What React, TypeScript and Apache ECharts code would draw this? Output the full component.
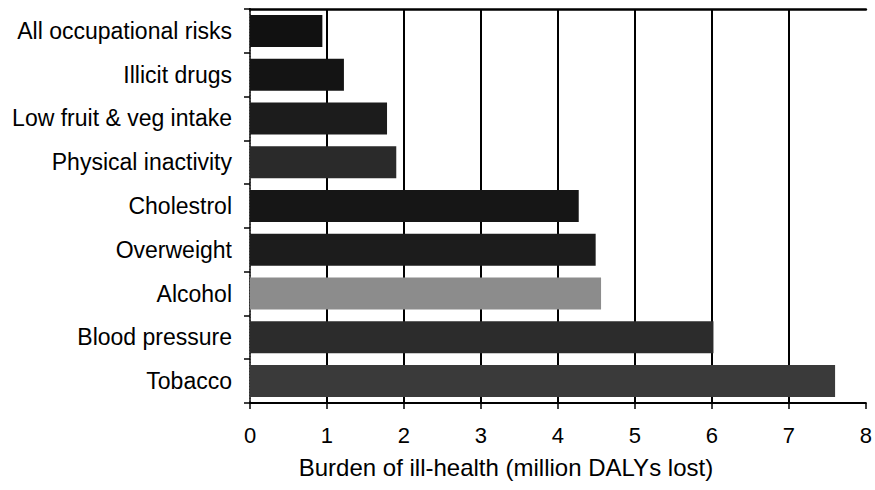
import React, { useEffect, useRef } from "react";
import * as echarts from "echarts";

const categories = [
  "All occupational risks",
  "Illicit drugs",
  "Low fruit & veg intake",
  "Physical inactivity",
  "Cholestrol",
  "Overweight",
  "Alcohol",
  "Blood pressure",
  "Tobacco",
];
const values = [0.94, 1.22, 1.78, 1.9, 4.27, 4.49, 4.56, 6.02, 7.6];
const barColors = ["#111111", "#141414", "#1c1c1c", "#2a2a2a", "#161616", "#1c1c1c", "#8c8c8c", "#2c2c2c", "#3a3a3a"];
const xTicks = [0, 1, 2, 3, 4, 5, 6, 7, 8];

export default function App() {
  const ref = useRef<HTMLDivElement>(null);
  useEffect(() => {
    if (!ref.current) return;
    const chart = echarts.init(ref.current, null, { renderer: "svg" });
    const font = "Liberation Sans, Arial, sans-serif";
    chart.setOption({
      animation: false,
      backgroundColor: "#ffffff",
      grid: { left: 250, right: 7, top: 9, bottom: 87 },
      xAxis: [
        {
          type: "value",
          min: xTicks[0],
          max: xTicks[xTicks.length - 1],
          interval: 1,
          axisLine: { show: true, lineStyle: { color: "#000", width: 2 } },
          axisTick: { show: true, length: 6, lineStyle: { color: "#000", width: 1.5 } },
          axisLabel: { color: "#000", fontSize: 22, fontFamily: font, margin: 21 },
          splitLine: { show: true, showMinLine: false, showMaxLine: false, lineStyle: { color: "#000", width: 2 } },
          name: "Burden of ill-health (million DALYs lost)",
          nameLocation: "middle",
          nameGap: 52,
          nameTextStyle: { color: "#000", fontSize: 24, fontFamily: font, padding: [0, 104, 0, 0] },
        },
        {
          type: "value",
          position: "top",
          min: 0,
          max: 8,
          interval: 1,
          axisLine: { show: true, lineStyle: { color: "#000", width: 2.5 } },
          axisTick: { show: false },
          axisLabel: { show: false },
          splitLine: { show: false },
        },
      ],
      yAxis: [
        {
          type: "category",
          data: categories,
          inverse: true,
          axisLine: { show: true, lineStyle: { color: "#000", width: 2 } },
          axisTick: { show: true, length: 6, lineStyle: { color: "#000", width: 1.5 } },
          axisLabel: { color: "#000", fontSize: 23, fontFamily: font, margin: 18 },
        },
        {
          type: "category",
          data: categories,
          inverse: true,
          position: "right",
          axisLine: { show: true, lineStyle: { color: "#666", width: 1.5, type: "dotted" } },
          axisTick: { show: false },
          axisLabel: { show: false },
        },
      ],
      series: [
        {
          type: "bar",
          xAxisIndex: 0,
          yAxisIndex: 0,
          barWidth: 32,
          data: values.map((v, i) => ({ value: v, itemStyle: { color: barColors[i] } })),
        },
      ],
    });
    return () => chart.dispose();
  }, []);
  return <div ref={ref} style={{ width: 875, height: 490, position: "absolute", left: 0, top: 0 }} />;
}
